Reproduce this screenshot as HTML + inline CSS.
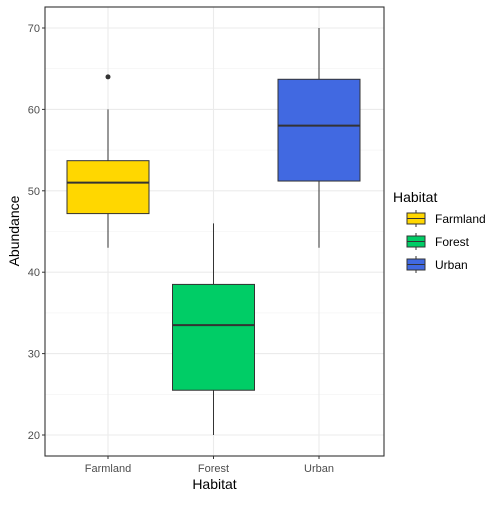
<!DOCTYPE html>
<html><head><meta charset="utf-8"><style>body{margin:0;background:#fff}svg{font-family:"Liberation Sans",sans-serif}</style></head>
<body>
<svg id="c" width="500" height="500" xmlns="http://www.w3.org/2000/svg"></svg>
<script>
const categories=["Farmland","Forest","Urban"];
const colors=["#FFD700","#00CD66","#4169E1"];
const lowerWhisker=[43,20,43];
const q1=[47.2,25.5,51.2];
const medians=[51,33.5,58];
const q3=[53.7,38.5,63.7];
const upperWhisker=[60,46,70];
const outliers=[[64],[],[]];
const yTicks=[20,30,40,50,60,70];
const NS="http://www.w3.org/2000/svg";
const svg=document.getElementById('c');
const L=45,R=384,T=7,B=456;
function y(v){return 435+(20-v)*8.14;}
function x(i){return 108+i*105.5;}
function el(t,a,p){const e=document.createElementNS(NS,t);for(const k in a)e.setAttribute(k,a[k]);(p||svg).appendChild(e);return e;}
const panel=el('rect',{x:L,y:T,width:R-L,height:B-T,fill:'#fff',stroke:'none'});


// minor grid
for(let i=0;i<yTicks.length-1;i++){const m=(yTicks[i]+yTicks[i+1])/2;el('line',{x1:L,x2:R,y1:y(m),y2:y(m),stroke:'#f2f2f2','stroke-width':0.6});}
yTicks.forEach(t=>{el('line',{x1:L,x2:R,y1:y(t),y2:y(t),stroke:'#ebebeb','stroke-width':1.1});
const tl=el('text',{x:L-5,y:y(t)+4,'text-anchor':'end','font-size':11,fill:'#4d4d4d'});tl.textContent=t;


el('line',{x1:L-3,x2:L,y1:y(t),y2:y(t),stroke:'#333'});});
categories.forEach((c,i)=>{el('line',{x1:x(i),x2:x(i),y1:T,y2:B,stroke:'#ebebeb','stroke-width':1.1});});
const hw=41;
categories.forEach((c,i)=>{
 const g=el('g',{});
 
 
 el('line',{x1:x(i),x2:x(i),y1:y(upperWhisker[i]),y2:y(q3[i]),stroke:'#333'},g);
 el('line',{x1:x(i),x2:x(i),y1:y(q1[i]),y2:y(lowerWhisker[i]),stroke:'#333'},g);
 el('rect',{x:x(i)-hw,y:y(q3[i]),width:2*hw,height:y(q1[i])-y(q3[i]),fill:colors[i],stroke:'#333'},g);
 el('line',{x1:x(i)-hw,x2:x(i)+hw,y1:y(medians[i]),y2:y(medians[i]),stroke:'#333','stroke-width':2},g);
 outliers[i].forEach(o=>{const p=el('circle',{cx:x(i),cy:y(o),r:2.5,fill:'#333'},g);
 
 });
 el('line',{x1:x(i),x2:x(i),y1:B,y2:B+3,stroke:'#333'});
 const t=el('text',{x:x(i),y:B+16,'text-anchor':'middle','font-size':11,fill:'#4d4d4d'});t.textContent=c;
 
 
});
el('rect',{x:L,y:T,width:R-L,height:B-T,fill:'none',stroke:'#333','stroke-width':1.1});
const xt=el('text',{x:(L+R)/2,y:489,'text-anchor':'middle','font-size':14,fill:'#000'});xt.textContent='Habitat';


const yt=el('text',{x:0,y:0,'text-anchor':'middle','font-size':14,fill:'#000',transform:'translate(19,231) rotate(-90)'});yt.textContent='Abundance';


const lt=el('text',{x:393,y:202,'font-size':14,fill:'#000'});lt.textContent='Habitat';


categories.forEach((c,i)=>{
 const g=el('g',{});
 
 
 const yy=213+i*23;
 el('line',{x1:416,x2:416,y1:yy-3,y2:yy+14,stroke:'#333'},g);
 el('rect',{x:407,y:yy,width:18,height:11,fill:colors[i],stroke:'#333'},g);
 el('line',{x1:407,x2:425,y1:yy+5.5,y2:yy+5.5,stroke:'#333'},g);
 const t=el('text',{x:435,y:yy+10,'font-size':12,fill:'#000'},g);t.textContent=c;
});
</script>
</body></html>
